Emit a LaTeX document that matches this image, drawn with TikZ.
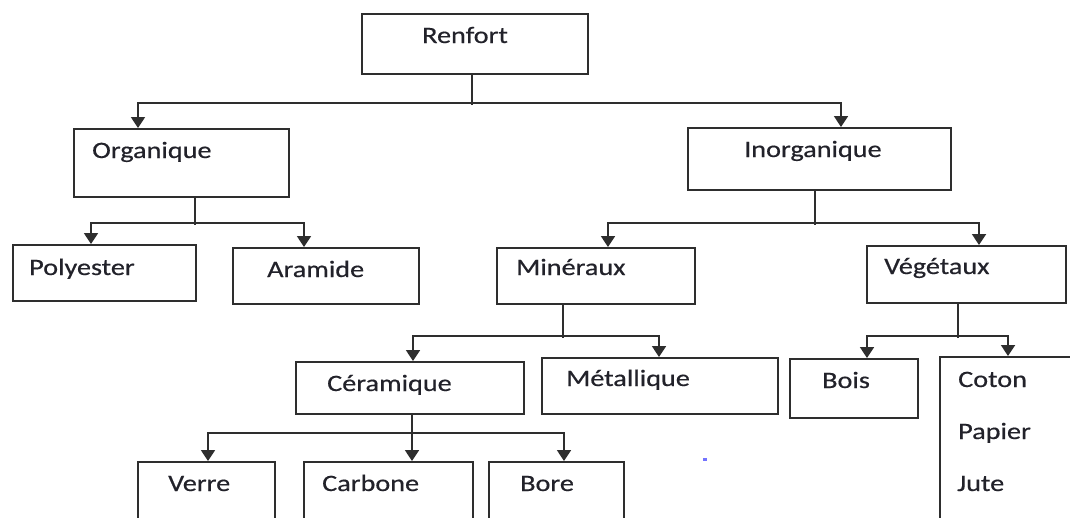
\documentclass[tikz,border=0pt]{standalone}
\usepackage{fontspec}
\setmainfont{Carlito}
\newfontfamily\lblfont{Carlito}[FakeBold=0.45]
\usetikzlibrary{arrows.meta}
\definecolor{ln}{HTML}{2E2E2E}
\definecolor{tx}{HTML}{22222A}
\tikzset{
  box/.style={draw=ln, line width=2pt, rectangle, inner sep=0pt, anchor=north west},
  lbl/.style={anchor=base west, inner sep=0pt, text=tx, font=\lblfont\fontsize{23.5}{28}\selectfont},
  conn/.style={draw=ln, line width=1.8pt, -{Triangle[width=14pt,length=11pt]}},
  stemline/.style={draw=ln, line width=1.8pt},
}
\newcommand{\sx}[1]{\scalebox{1.2}[1]{#1}}
\begin{document}
\begin{tikzpicture}[x=1pt,y=-1pt]
\useasboundingbox (0,0) rectangle (1070,517);
\clip (0,0) rectangle (1070,517);
\fill[white] (0,0) rectangle (1070,517);
% boxes
\node[box, minimum width=226, minimum height=60] (ren) at (361,13) {};
\node[box, minimum width=215, minimum height=68] (org) at (73,128) {};
\node[box, minimum width=263, minimum height=62] (ino) at (687,127) {};
\node[box, minimum width=183, minimum height=56] (pol) at (12,244) {};
\node[box, minimum width=186, minimum height=56] (ara) at (232,247) {};
\node[box, minimum width=198, minimum height=56] (min) at (496,247) {};
\node[box, minimum width=199, minimum height=57] (veg) at (866,245) {};
\node[box, minimum width=228, minimum height=52] (cer) at (295,361) {};
\node[box, minimum width=236, minimum height=56] (met) at (541,357) {};
\node[box, minimum width=128, minimum height=59] (boi) at (789,358) {};
\node[box, minimum width=150, minimum height=180] (cot) at (939,356) {};
\node[box, minimum width=137, minimum height=70] (ver) at (137,461) {};
\node[box, minimum width=169, minimum height=70] (car) at (303,461) {};
\node[box, minimum width=135, minimum height=70] (bor) at (488,461) {};
% labels
\node[lbl] (tren) at (422,43) {\sx{Renfort}};
\node[lbl] (torg) at (92,158) {\sx{Organique}};
\node[lbl] (tino) at (744,157) {\sx{Inorganique}};
\node[lbl] (tpol) at (29,275) {\sx{Polyester}};
\node[lbl] (tara) at (267,277) {\sx{Aramide}};
\node[lbl] (tmin) at (516,275) {\sx{Minéraux}};
\node[lbl] (tveg) at (884,274) {\sx{Végétaux}};
\node[lbl] (tcer) at (327,391) {\sx{Céramique}};
\node[lbl] (tmet) at (566,386) {\sx{Métallique}};
\node[lbl] (tboi) at (822,388) {\sx{Bois}};
\node[lbl] (tcot) at (958,387) {\sx{Coton}};
\node[lbl] (tpap) at (958,439) {\sx{Papier}};
\node[lbl] (tjut) at (957,491) {\sx{Jute}};
\node[lbl] (tver) at (168,491) {\sx{Verre}};
\node[lbl] (tcar) at (322,491) {\sx{Carbone}};
\node[lbl] (tbor) at (520,491) {\sx{Bore}};
% junctions
\coordinate (j1) at (472,103);
\coordinate (j2) at (195,223);
\coordinate (j3) at (815,223);
\coordinate (j4) at (563,336);
\coordinate (j5) at (958,336);
\coordinate (j6) at (412,433);
% connectors
\draw[stemline] (j1 |- ren.south) -- ([yshift=-2pt]j1);
\draw[conn] (j1) -| ([xshift=-43.5pt]org.north);
\draw[conn] (j1) -| ([xshift=21.5pt]ino.north);
\draw[stemline] (j2 |- org.south) -- ([yshift=-2pt]j2);
\draw[conn] (j2) -| ([xshift=-13.5pt]pol.north);
\draw[conn] (j2) -| ([xshift=-22pt]ara.north);
\draw[stemline] (j3 |- ino.south) -- ([yshift=-2pt]j3);
\draw[conn] (j3) -| ([xshift=12pt]min.north);
\draw[conn] (j3) -| ([xshift=12.5pt]veg.north);
\draw[stemline] (j4 |- min.south) -- ([yshift=-2pt]j4);
\draw[conn] (j4) -| ([xshift=3pt]cer.north);
\draw[conn] (j4) -| ([xshift=-1pt]met.north);
\draw[stemline] (j5 |- veg.south) -- ([yshift=-2pt]j5);
\draw[conn] (j5) -| ([xshift=13pt]boi.north);
\draw[conn] (j5) -| ([xshift=-7pt]cot.north);
\draw[conn] (j6 |- cer.south) -- (j6 |- car.north);
\draw[conn] (j6) -| ([xshift=1.5pt]ver.north);
\draw[conn] (j6) -| ([xshift=7.5pt]bor.north);
% stray mark
\fill[blue!55] (703,458) rectangle (707,460.5);
\end{tikzpicture}
\end{document}
